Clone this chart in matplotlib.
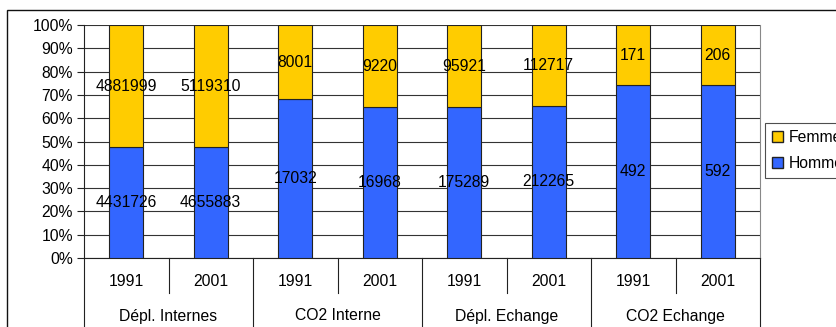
import matplotlib.pyplot as plt
from matplotlib.patches import Patch, Rectangle
import numpy as np

plt.rcParams['font.family'] = ['Liberation Sans', 'DejaVu Sans']

groups = ['Dépl. Internes', 'CO2 Interne', 'Dépl. Echange', 'CO2 Echange']
years = ['1991', '2001']
hommes = np.array([4431726, 4655883, 17032, 16968, 175289, 212265, 492, 592])
femmes = np.array([4881999, 5119310, 8001, 9220, 95921, 112717, 171, 206])

blue = '#3366FF'
yellow = '#FFCC00'
fs = 11.3

W, H = 837, 327
fig = plt.figure(figsize=(W / 100, H / 100), dpi=100)
ax = fig.add_axes([84 / W, 1 - 258 / H, (760 - 84) / W, (258 - 25) / H])

total = hommes + femmes
ph = hommes / total * 100
pf = femmes / total * 100
x = np.arange(len(hommes))

ax.bar(x, ph, width=0.4, color=blue, edgecolor='#222222', linewidth=0.8, zorder=3)
ax.bar(x, pf, width=0.4, bottom=ph, color=yellow, edgecolor='#222222', linewidth=0.8, zorder=3)

for i in range(len(x)):
    ax.text(x[i], ph[i] / 2, str(hommes[i]), ha='center', va='center', fontsize=fs, zorder=4)
    ax.text(x[i], ph[i] + pf[i] / 2, str(femmes[i]), ha='center', va='center', fontsize=fs, zorder=4)

ax.set_xlim(-0.5, len(x) - 0.5)
ax.set_ylim(0, 100)
ax.set_yticks(np.arange(0, 101, 10))
ax.set_yticklabels([f'{v}%' for v in range(0, 101, 10)], fontsize=fs)
ax.tick_params(axis='y', length=5, width=0.8, color='#222222', pad=3)
ax.set_xticks([])
ax.yaxis.grid(True, color='#333333', linewidth=0.8, zorder=0)
ax.set_axisbelow(True)
for s in ['top', 'right']:
    ax.spines[s].set_color('#888888')
    ax.spines[s].set_linewidth(0.8)
ax.spines['top'].set_visible(False)
ax.spines['left'].set_color('#222222')
ax.spines['bottom'].set_color('#222222')

# two-level category axis
tr = ax.get_xaxis_transform()
y_short = -35 / 233
y_full = -75 / 233
for b in np.arange(-0.5, len(x), 1.0):
    full = (int(b + 0.5) % 2 == 0)
    ax.plot([b, b], [0, y_full if full else y_short], color='#222222', lw=0.8,
            transform=tr, clip_on=False)
for i in range(len(x)):
    ax.text(x[i], -24 / 233, years[i % 2], ha='center', va='center', fontsize=fs,
            transform=tr)
for g in range(len(groups)):
    ax.text(2 * g + 0.5, -58 / 233, groups[g], ha='center', va='center', fontsize=fs,
            transform=tr)

# outer chart border
fig.add_artist(Rectangle((7 / W, -0.1), 1.2, 1 - 10 / H + 0.1, transform=fig.transFigure,
                         fill=False, edgecolor='#111111', linewidth=1.0))

handles = [Patch(facecolor=yellow, edgecolor='#222222', label='Femmes'),
           Patch(facecolor=blue, edgecolor='#222222', label='Hommes')]
leg = fig.legend(handles=handles, loc='upper left', bbox_to_anchor=(765 / W, 1 - 123 / H),
                 fontsize=fs, frameon=True, fancybox=False, handlelength=0.7,
                 handleheight=0.7, handletextpad=0.35, borderpad=0.45, labelspacing=0.7,
                 borderaxespad=0)
leg.get_frame().set_edgecolor('#222222')
leg.get_frame().set_linewidth(0.8)

fig.savefig('out.png', dpi=100)
